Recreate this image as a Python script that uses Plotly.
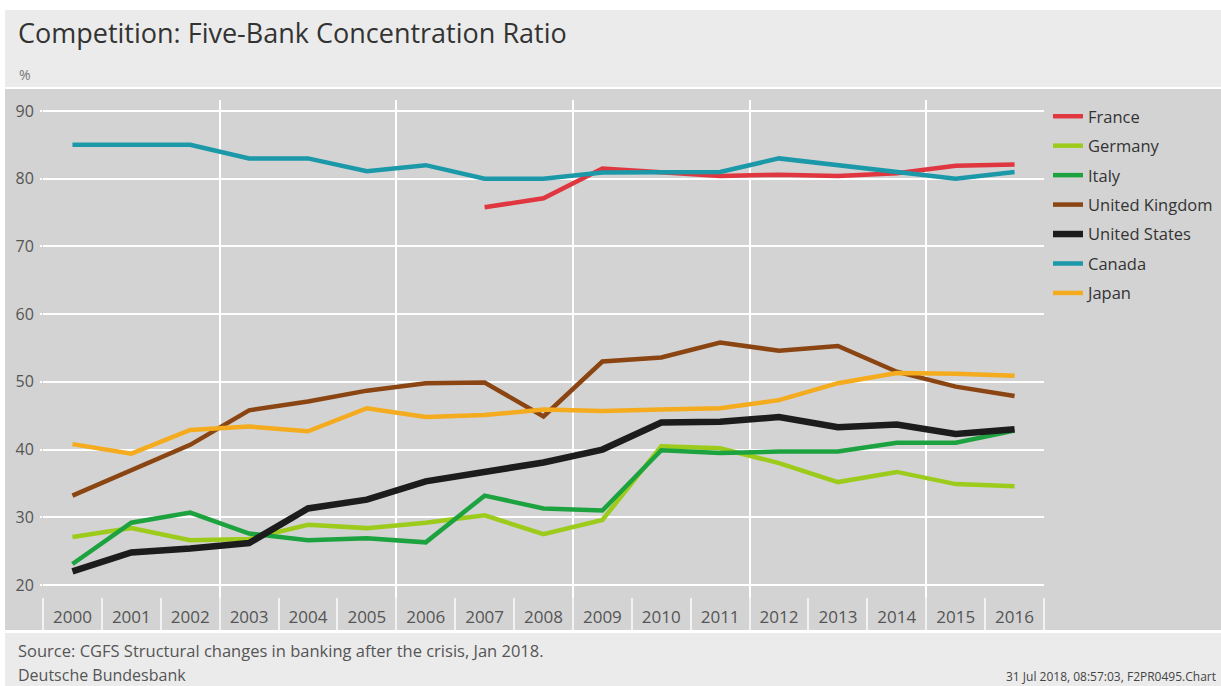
import plotly.graph_objects as go

years = list(range(2000, 2017))
france = [None]*7 + [75.8, 77.1, 81.5, 81.0, 80.4, 80.6, 80.4, 80.8, 81.9, 82.1]
germany = [27.1, 28.4, 26.6, 26.8, 28.9, 28.4, 29.2, 30.3, 27.5, 29.6, 40.5, 40.2, 38.0, 35.2, 36.7, 34.9, 34.6]
italy = [23.1, 29.2, 30.7, 27.6, 26.6, 26.9, 26.3, 33.2, 31.3, 31.0, 39.9, 39.5, 39.7, 39.7, 41.0, 41.0, 42.8]
uk = [33.2, 37.0, 40.7, 45.8, 47.1, 48.7, 49.8, 49.9, 44.9, 53.0, 53.6, 55.8, 54.6, 55.3, 51.5, 49.3, 47.9]
us = [22.0, 24.8, 25.4, 26.2, 31.3, 32.6, 35.3, 36.7, 38.1, 40.0, 44.0, 44.1, 44.8, 43.3, 43.7, 42.3, 43.0]
canada = [85.0, 85.0, 85.0, 83.0, 83.0, 81.1, 82.0, 80.0, 80.0, 80.9, 81.0, 81.0, 83.0, 82.0, 81.0, 80.0, 81.0]
japan = [40.8, 39.4, 42.9, 43.4, 42.7, 46.1, 44.8, 45.1, 45.9, 45.7, 45.9, 46.1, 47.3, 49.8, 51.3, 51.2, 50.9]

series_names = ["France", "Germany", "Italy", "United Kingdom", "United States", "Canada", "Japan"]
series_values = [france, germany, italy, uk, us, canada, japan]
colors = ["#e0363f", "#9dcb1c", "#1ca33f", "#8a4512", "#1c1c1c", "#1b99a9", "#f4ab1d"]
widths = [4.5, 4.5, 4.5, 4.5, 6.5, 4.5, 4.5]

y_ticks = [20, 30, 40, 50, 60, 70, 80, 90]
grid_years = [2002.5, 2005.5, 2008.5, 2011.5, 2014.5]
boundaries = [y + 0.5 for y in range(1999, 2017)]

W, H = 1221, 686
L, R, T, B = 43, 177, 100, 56
PW, PH = W - L - R, H - T - B


def px(x):
    return (x - L) / PW


def py(y):
    return (H - B - y) / PH


FONT = "Open Sans"
PANEL = "#d3d3d3"
BAND = "#ebebeb"
XR = [1999.5, 2016.5]
YR = [20 - 45 / 6.771, 90 + 11 / 6.771]

fig = go.Figure()
for name, vals, c, w in zip(series_names, series_values, colors, widths):
    fig.add_trace(go.Scatter(
        x=years, y=vals, name=name, mode="lines",
        line=dict(color=c, width=w), legendgroup=name,
        connectgaps=False,
    ))
# empty trace so that the overlaid label axis is rendered
fig.add_trace(go.Scatter(x=[], y=[], xaxis="x2", showlegend=False, hoverinfo="skip"))

fig.update_layout(
    width=W, height=H, autosize=False,
    margin=dict(l=L, r=R, t=T, b=B, autoexpand=False),
    paper_bgcolor="white",
    plot_bgcolor=PANEL,
    font=dict(family=FONT, color="#444"),
    showlegend=True,
    legend=dict(
        x=px(1048), y=py(99), xanchor="left", yanchor="top",
        bgcolor="rgba(0,0,0,0)", font=dict(size=16.5, color="#333"),
        traceorder="grouped", tracegroupgap=5,
    ),
    xaxis=dict(
        range=XR, zeroline=False,
        tickmode="array", tickvals=grid_years, showticklabels=False,
        showgrid=True, gridcolor="white", gridwidth=2, ticks="",
        minor=dict(tickmode="array", tickvals=boundaries, ticks="inside",
                   ticklen=32, tickwidth=1.5, tickcolor="#f2f2f2", showgrid=False),
        showline=False,
    ),
    xaxis2=dict(
        range=XR, overlaying="x", anchor="y", side="bottom",
        tickmode="array", tickvals=years, ticktext=[str(y) for y in years],
        ticks="", ticklabelposition="inside", ticklabelstandoff=1,
        tickfont=dict(size=17, color="#555"),
        showgrid=False, zeroline=False, showline=False,
    ),
    yaxis=dict(
        range=YR, tickmode="array", tickvals=y_ticks,
        showgrid=True, gridcolor="white", gridwidth=2, zeroline=False,
        ticks="outside", ticklen=2, tickwidth=2, tickcolor="white",
        ticklabelstandoff=3, tickfont=dict(size=16, color="#555"),
    ),
)

shapes = [
    dict(type="rect", xref="paper", yref="paper", x0=px(5), x1=px(W), y0=py(87), y1=py(10),
         fillcolor=BAND, line=dict(width=0), layer="below"),
    dict(type="rect", xref="paper", yref="paper", x0=px(5), x1=px(W), y0=py(630), y1=py(89),
         fillcolor=PANEL, line=dict(width=0), layer="below"),
    dict(type="rect", xref="paper", yref="paper", x0=px(5), x1=px(W), y0=py(H), y1=py(633),
         fillcolor=BAND, line=dict(width=0), layer="below"),
]
fig.update_layout(shapes=shapes)

annotations = [
    dict(text="Competition: Five-Bank Concentration Ratio", x=px(16), y=py(33),
         font=dict(size=27, color="#333", family=FONT)),
    dict(text="%", x=px(17), y=py(74), font=dict(size=14, color="#777", family=FONT)),
    dict(text="Source: CGFS Structural changes in banking after the crisis, Jan 2018.",
         x=px(16), y=py(650), font=dict(size=16.5, color="#555", family=FONT)),
    dict(text="Deutsche Bundesbank", x=px(16), y=py(675), font=dict(size=16, color="#555", family=FONT)),
    dict(text="31 Jul 2018, 08:57:03, F2PR0495.Chart", x=px(1004), y=py(676),
         font=dict(size=12, color="#444", family=FONT)),
]
for a in annotations:
    a.update(xref="paper", yref="paper", xanchor="left", yanchor="middle", showarrow=False)
fig.update_layout(annotations=annotations)

fig.write_html(
    "out.html",
    config={"displayModeBar": False, "responsive": False},
    post_script="document.body.style.margin='0';document.body.style.overflow='hidden';",
)
